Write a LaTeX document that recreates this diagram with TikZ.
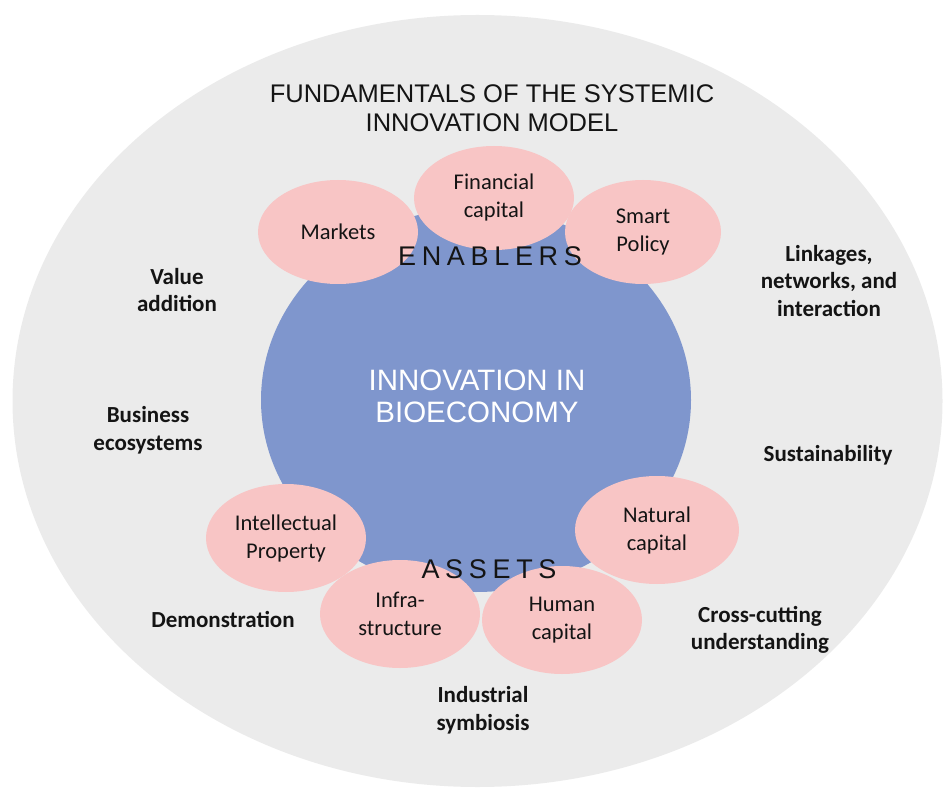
\documentclass[tikz,border=0pt]{standalone}
\usepackage{fontspec}
\setmainfont{Carlito}
\newfontfamily\arialfont{Liberation Sans}
\newfontfamily\spacedfont[LetterSpace=21]{Liberation Sans}
\usetikzlibrary{shapes}

\definecolor{outergray}{RGB}{235,235,235}
\definecolor{coreblue}{RGB}{127,150,205}
\definecolor{petalpink}{RGB}{248,197,197}
\definecolor{inktext}{RGB}{20,20,20}

\begin{document}
\begin{tikzpicture}[x=1pt,y=-1pt,
    petal/.style={ellipse,fill=petalpink,inner sep=0pt,align=center,text=inktext,
      minimum width=160pt,minimum height=104pt,
      font=\fontsize{22.5}{28}\selectfont},
    theme/.style={align=center,text=inktext,font=\bfseries\fontsize{23}{27.5}\selectfont},
    tag/.style={text=inktext,font=\spacedfont\fontsize{27}{30}\selectfont}]
      \useasboundingbox (0,0) rectangle (947,791);
      % outer field and core
      \fill[outergray] (477.5,401) ellipse [x radius=465pt,y radius=386pt];
      \fill[coreblue] (476,400) ellipse [x radius=215pt,y radius=192pt];

      \node[align=center,text=inktext,font=\arialfont\fontsize{25.5}{29.5}\selectfont] (title) at (492,108)
        {FUNDAMENTALS OF THE SYSTEMIC\\INNOVATION MODEL};
      \node[align=center,text=white,font=\arialfont\fontsize{29.5}{32}\selectfont] (core) at (477,396)
        {INNOVATION IN\\BIOECONOMY};

      % enablers
      \node[petal] (markets) at (338,232) {Markets};
      \node[petal] (financial) at (494,198) {Financial\\capital};
      \node[petal,minimum width=156pt] (policy) at (643,232) {Smart\\Policy};
      \node[tag] (enablers) at (490,256) {ENABLERS};

      % assets
      \node[petal,minimum height=108pt] (ip) at (286,538) {Intellectual\\Property};
      \node[petal,minimum height=108pt] (infra) at (400,614) {Infra-\\structure};
      \node[petal,minimum height=108pt] (human) at (562,620) {Human\\capital};
      \node[petal,minimum width=164pt,minimum height=108pt] (natural) at (657,530) {Natural\\capital};
      \node[tag] (assets) at (489,569) {ASSETS};

      % fundamentals around
      \node[theme] (value) at (177,290) {Value\\addition};
      \node[theme] (business) at (148,430) {Business\\ecosystems};
      \node[theme] (demo) at (223,619) {Demonstration};
      \node[theme] (symbiosis) at (483,710) {Industrial\\symbiosis};
      \node[theme] (crosscut) at (760,630) {Cross-cutting\\understanding};
      \node[theme] (sustain) at (828,455) {Sustainability};
      \node[theme] (linkages) at (829,281) {Linkages,\\networks, and\\interaction};
    \end{tikzpicture}
\end{document}
